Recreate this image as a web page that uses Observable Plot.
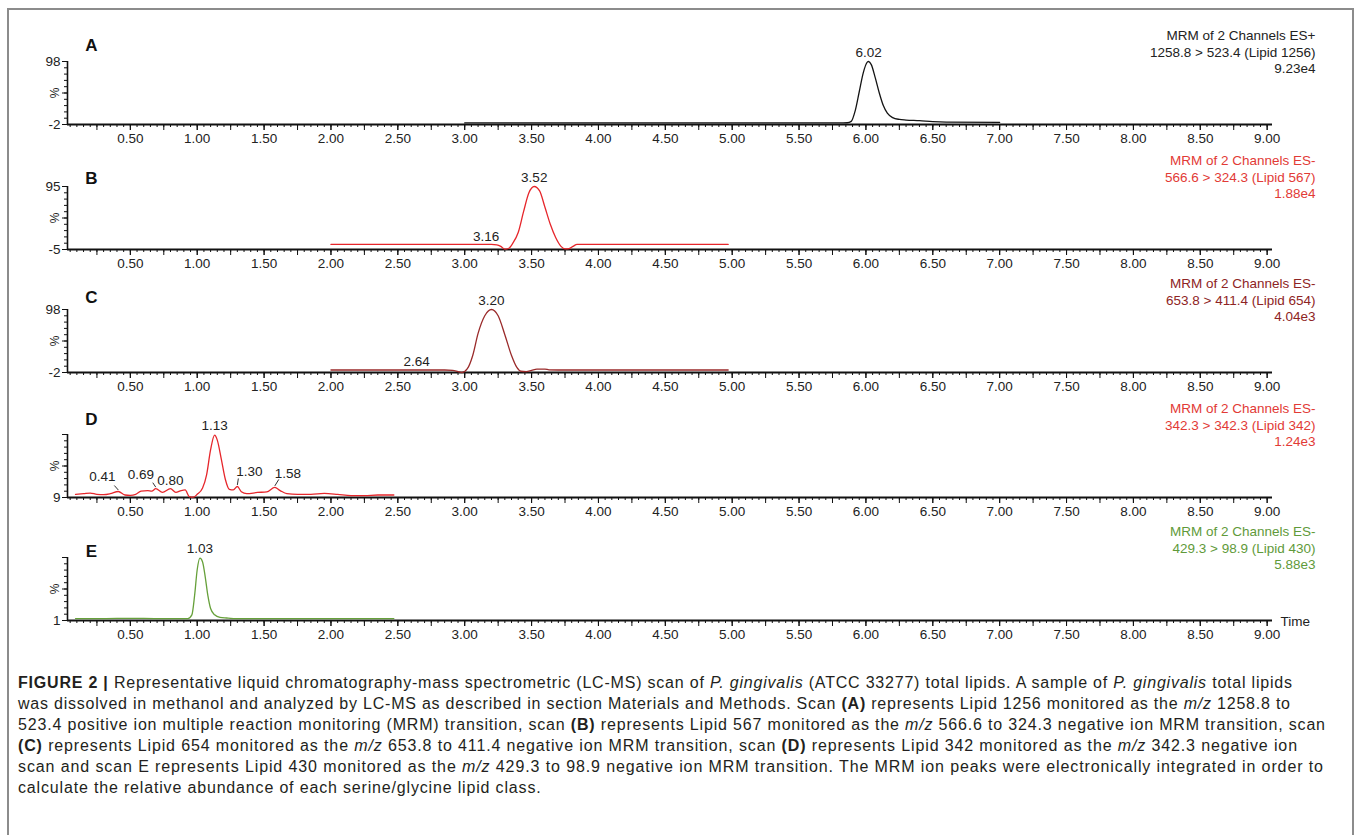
<!DOCTYPE html>
<html><head><meta charset="utf-8">
<script src="https://cdn.jsdelivr.net/npm/d3@7"></script>
<script src="https://cdn.jsdelivr.net/npm/@observablehq/plot@0.6"></script>
<style>
body{margin:0;background:#fff;width:1357px;height:835px;overflow:hidden;position:relative;font-family:"Liberation Sans",Arial,sans-serif;}
#frame{position:absolute;left:7px;top:8px;width:1347px;height:840px;border:2px solid #8c8c8c;box-sizing:border-box;}
.panel{position:absolute;left:0;}
#caption{position:absolute;left:18px;top:672px;font-size:16px;line-height:21px;color:#231f20;white-space:nowrap;font-family:"Liberation Sans",Arial,sans-serif;}
#caption div{display:block;width:max-content;}
</style></head><body>
<div id="frame"></div>
<div id="charts"></div>
<div id="caption">
<div><b>FIGURE 2 |</b> Representative liquid chromatography-mass spectrometric (LC-MS) scan of <i>P. gingivalis</i> (ATCC 33277) total lipids. A sample of <i>P. gingivalis</i> total lipids</div>
<div>was dissolved in methanol and analyzed by LC-MS as described in section Materials and Methods. Scan <b>(A)</b> represents Lipid 1256 monitored as the <i>m/z</i> 1258.8 to</div>
<div>523.4 positive ion multiple reaction monitoring (MRM) transition, scan <b>(B)</b> represents Lipid 567 monitored as the <i>m/z</i> 566.6 to 324.3 negative ion MRM transition, scan</div>
<div><b>(C)</b> represents Lipid 654 monitored as the <i>m/z</i> 653.8 to 411.4 negative ion MRM transition, scan <b>(D)</b> represents Lipid 342 monitored as the <i>m/z</i> 342.3 negative ion</div>
<div>scan and scan E represents Lipid 430 monitored as the <i>m/z</i> 429.3 to 98.9 negative ion MRM transition. The MRM ion peaks were electronically integrated in order to</div>
<div>calculate the relative abundance of each serine/glycine lipid class.</div>
</div>
<script>
// ---------- DATA ----------
const panelLetters = ["A", "B", "C", "D", "E"];
const yMin = [-2, -5, -2, 9, 1];
const yTopLabel = [98, 95, 98, null, null];

const annotA = ["MRM of 2 Channels ES+", "1258.8 > 523.4 (Lipid 1256)", "9.23e4"];
const annotB = ["MRM of 2 Channels ES-", "566.6 > 324.3 (Lipid 567)", "1.88e4"];
const annotC = ["MRM of 2 Channels ES-", "653.8 > 411.4 (Lipid 654)", "4.04e3"];
const annotD = ["MRM of 2 Channels ES-", "342.3 > 342.3 (Lipid 342)", "1.24e3"];
const annotE = ["MRM of 2 Channels ES-", "429.3 > 98.9 (Lipid 430)", "5.88e3"];

const timeA = [3.00, 5.80, 5.86, 5.89, 5.92, 5.95, 5.98, 6.01, 6.02, 6.04, 6.07, 6.10, 6.13, 6.16, 6.20, 6.25, 6.30, 6.40, 6.50, 6.60, 7.00];
const pctA  = [0.5, 0.5, 0.8, 3, 20, 50, 80, 97, 98, 93, 72, 48, 28, 16, 9, 6, 5, 4, 2.5, 1.8, 1.5];

const timeB = [2.00, 3.10, 3.16, 3.20, 3.24, 3.27, 3.30, 3.33, 3.36, 3.40, 3.44, 3.48, 3.52, 3.56, 3.60, 3.64, 3.68, 3.72, 3.75, 3.78, 3.81, 3.84, 4.00, 4.97];
const pctB  = [3, 3, 3, 3.2, 2.5, 0, -4.5, -3, 5, 22, 55, 85, 95, 88, 62, 35, 14, 0, -4, -3.5, 0, 3, 3, 3];

const timeC = [2.00, 2.85, 2.91, 2.95, 2.98, 3.02, 3.06, 3.10, 3.15, 3.20, 3.25, 3.30, 3.35, 3.39, 3.42, 3.46, 3.50, 3.54, 3.60, 3.63, 3.70, 4.97];
const pctC  = [2, 2, 1.5, -0.5, -2, 4, 25, 60, 88, 98, 88, 58, 25, 6, 0, -0.5, 1.5, 3.5, 3.5, 2.2, 2, 2];

const timeD = [0.09, 0.15, 0.20, 0.25, 0.30, 0.35, 0.41, 0.46, 0.50, 0.54, 0.58, 0.63, 0.66, 0.69, 0.74, 0.80, 0.84, 0.88, 0.91, 0.94, 0.97, 1.00, 1.04, 1.07, 1.10, 1.13, 1.15, 1.18, 1.21, 1.24, 1.27, 1.30, 1.33, 1.37, 1.45, 1.52, 1.58, 1.62, 1.67, 1.75, 1.85, 1.95, 2.05, 2.15, 2.25, 2.35, 2.47];
const pctD  = [14, 15, 16, 14, 13.5, 15, 18.5, 13, 12.5, 14, 19, 20, 19, 23, 17, 23, 17, 20, 21, 10.5, 9.5, 14, 24, 45, 85, 108, 100, 70, 38, 22, 21, 26.5, 18, 15, 17, 18, 25, 20, 15, 14, 14, 15.5, 14, 12, 12, 13, 13];

const timeE = [0.09, 0.30, 0.50, 0.70, 0.93, 0.96, 0.98, 1.00, 1.02, 1.04, 1.06, 1.08, 1.10, 1.13, 1.17, 1.22, 1.30, 1.60, 2.00, 2.47];
const pctE  = [4, 4, 4.5, 4, 4, 10, 40, 82, 100, 94, 70, 40, 20, 10, 6, 5, 4, 4, 4, 4];

const peakTimeA = [6.02], peakPctA = [98], peakTextA = ["6.02"];
const peakTimeB = [3.52, 3.16], peakPctB = [95, 3], peakTextB = ["3.52", "3.16"];
const peakTimeC = [3.20, 2.64], peakPctC = [98, 2], peakTextC = ["3.20", "2.64"];
const peakTimeD = [1.13, 0.41, 0.69, 0.80, 1.30, 1.58], peakPctD = [108, 18.5, 23, 23, 26.5, 25], peakTextD = ["1.13", "0.41", "0.69", "0.80", "1.30", "1.58"];
const peakTimeE = [1.02], peakPctE = [100], peakTextE = ["1.03"];

const xLabelTicks = d3.range(1, 19).map(i => +(i * 0.5).toFixed(2));

// ---------- LAYOUT / STYLE ----------
const W = 1357, H = 124, mL = 67, mR = 85, mT = 37, mB = 24;
const xDom = [0.03, 9.04];
const kx = (W - mL - mR) / (xDom[1] - xDom[0]);
const ky = (H - mT - mB) / 100;
const bottoms = [124, 249, 372, 497, 620];
const letterDy = [-16, -8, -12, -15, -6];
const lineColors = ["#141414", "#e6262b", "#9a2a2a", "#e6262b", "#66a03a"];
const textColors = ["#222222", "#e23a36", "#8e2424", "#e23a36", "#5f9a3a"];
// label offsets in px from the peak: [dx, dy, leaderDx, leaderDy]
const labelOffsets = {
  B: [[0, -9], [0, -8]],
  C: [[0, -9], [0, -8]],
  D: [[0, -9], [-16, -15, -4, -6], [-15, -14, -3, -6], [0, -8], [12, -15, 1, -8], [13, -14, 4, -8]]
};
const font = "'Liberation Sans', Arial, sans-serif";

const series = [
  {time: timeA, pct: pctA, annot: annotA, pt: peakTimeA, pp: peakPctA, ptxt: peakTextA},
  {time: timeB, pct: pctB, annot: annotB, pt: peakTimeB, pp: peakPctB, ptxt: peakTextB},
  {time: timeC, pct: pctC, annot: annotC, pt: peakTimeC, pp: peakPctC, ptxt: peakTextC},
  {time: timeD, pct: pctD, annot: annotD, pt: peakTimeD, pp: peakPctD, ptxt: peakTextD},
  {time: timeE, pct: pctE, annot: annotE, pt: peakTimeE, pp: peakPctE, ptxt: peakTextE}
];

const charts = document.getElementById("charts");
series.forEach((s, i) => {
  const lo = yMin[i];
  const letter = panelLetters[i];
  const rows = s.time.map((t, j) => ({t, v: s.pct[j]}));
  const offs = labelOffsets[letter] || [];
  const peaks = s.pt.map((t, j) => {
    const o = offs[j] || [0, -9];
    const v = s.pp[j];
    return {
      text: s.ptxt[j], t, v,
      lt: t + o[0] / kx, lv: v - o[1] / ky,
      lead: o.length > 2,
      t1: t, v1: v + 1.5 / ky,
      t2: o.length > 2 ? t + o[2] / kx : t, v2: o.length > 2 ? v - o[3] / ky : v
    };
  });
  const yLabelTicks = yTopLabel[i] == null ? [lo] : [lo, yTopLabel[i]];
  const marks = [
    Plot.axisX(d3.range(1, 181).map(k => +(k * 0.05).toFixed(2)), {tickSize: 3, tickFormat: () => "", label: null, stroke: "#111"}),
    Plot.axisX(d3.range(1, 37).map(k => +(k * 0.25).toFixed(2)), {tickSize: 6, tickFormat: () => "", label: null, stroke: "#111"}),
    Plot.axisX(xLabelTicks, {tickSize: 6, tickPadding: 3, tickFormat: d3.format(".2f"), label: null, fontSize: 13.5, fill: "#222", stroke: "#111"}),
    Plot.axisY(d3.range(0, 11).map(k => lo + k * 10), {tickSize: 3, tickFormat: () => "", label: null, stroke: "#111"}),
    Plot.axisY([lo, lo + 50, lo + 100], {tickSize: 5, tickFormat: () => "", label: null, stroke: "#111"}),
    Plot.axisY(yLabelTicks, {tickSize: 5, tickPadding: 2, tickFormat: d => String(d), label: null, fontSize: 13.5, fill: "#222", stroke: "#111"}),
    Plot.ruleY([lo], {stroke: "#111", strokeWidth: 2}),
    Plot.ruleX([xDom[0]], {y1: lo, y2: lo + 100, stroke: "#111", strokeWidth: 1.6}),
    Plot.text(["%"], {x: xDom[0], y: lo + 50, dx: -12, rotate: -90, fontSize: 12, fill: "#222"}),
    Plot.line(rows, {x: "t", y: "v", stroke: lineColors[i], strokeWidth: 1.3, curve: "monotone-x"}),
    Plot.link(peaks.filter(p => p.lead), {x1: "t1", y1: "v1", x2: "t2", y2: "v2", stroke: "#333", strokeWidth: 1}),
    Plot.text(peaks, {x: "lt", y: "lv", text: "text", fontSize: 13.5, fill: "#222"}),
    Plot.text([letter], {frameAnchor: "top-left", dx: 24, dy: letterDy[i], textAnchor: "middle", lineAnchor: "middle", fontSize: 17, fontWeight: "bold", fill: "#111"}),
    Plot.text([s.annot.join("\n")], {frameAnchor: "top-right", dx: 43, dy: -33, textAnchor: "end", lineAnchor: "top", lineHeight: 1.22, fontSize: 13.5, fill: textColors[i]})
  ];
  if (i === 4) marks.push(Plot.text(["Time"], {frameAnchor: "bottom-right", dx: 8, dy: 1, textAnchor: "start", lineAnchor: "middle", fontSize: 13.5, fill: "#222"}));
  const chart = Plot.plot({
    width: W, height: H,
    marginLeft: mL, marginRight: mR, marginTop: mT, marginBottom: mB,
    x: {domain: xDom, label: null},
    y: {domain: [lo, lo + 100], label: null},
    style: {fontFamily: font, background: "transparent", overflow: "visible"},
    marks
  });
  const wrap = document.createElement("div");
  wrap.className = "panel";
  wrap.style.top = (bottoms[i] - (H - mB)) + "px";
  wrap.appendChild(chart);
  charts.appendChild(wrap);
});

// fit caption lines to the reference line ends (ragged right)
const lineEnds = [1292, 1290, 1325, 1297, 1323, null];
const capLines = Array.from(document.querySelectorAll("#caption div"));
const spacings = [];
capLines.forEach((el, k) => {
  if (lineEnds[k] == null) return;
  const w = el.getBoundingClientRect().width;
  const n = el.textContent.trim().length;
  const ls = (lineEnds[k] - 18 - w) / (n - 1);
  spacings.push(ls);
  el.style.letterSpacing = ls + "px";
});
const avg = d3.mean(spacings);
capLines.forEach((el, k) => { if (lineEnds[k] == null) el.style.letterSpacing = avg + "px"; });
</script>
</body></html>
